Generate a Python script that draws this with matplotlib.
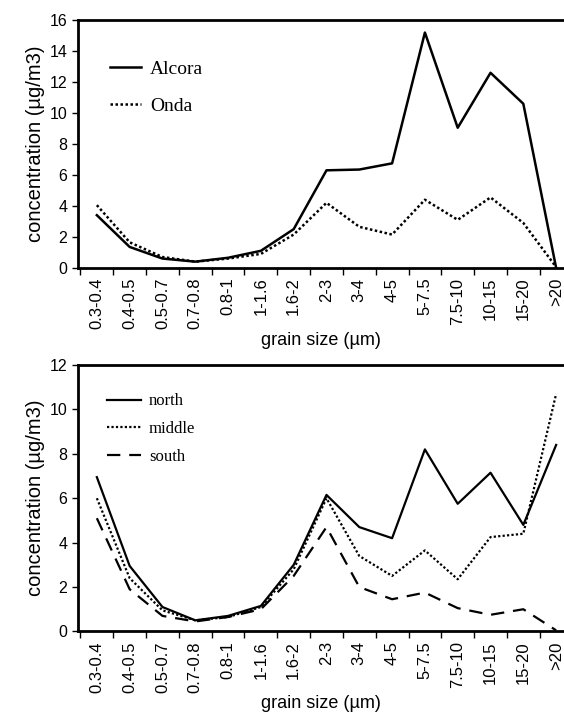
import numpy as np
import matplotlib.pyplot as plt

sizes = ['0.3-0.4', '0.4-0.5', '0.5-0.7', '0.7-0.8', '0.8-1', '1-1.6', '1.6-2',
         '2-3', '3-4', '4-5', '5-7.5', '7.5-10', '10-15', '15-20', '>20']

alcora = [3.4, 1.35, 0.6, 0.4, 0.65, 1.1, 2.5, 6.3, 6.35, 6.75, 15.2, 9.05, 12.6, 10.6, 0.0]
onda = [4.05, 1.65, 0.7, 0.4, 0.6, 0.9, 2.15, 4.2, 2.65, 2.15, 4.4, 3.1, 4.55, 2.9, 0.05]

north = [6.95, 2.95, 1.1, 0.5, 0.7, 1.15, 3.0, 6.15, 4.7, 4.2, 8.2, 5.75, 7.15, 4.8, 8.4]
middle = [6.0, 2.4, 0.95, 0.5, 0.65, 1.1, 2.8, 6.0, 3.4, 2.5, 3.65, 2.35, 4.25, 4.4, 10.7]
south = [5.1, 1.9, 0.7, 0.45, 0.65, 1.0, 2.5, 4.7, 2.0, 1.45, 1.75, 1.05, 0.75, 1.0, 0.05]

plt.rcParams['font.family'] = ['Liberation Sans', 'DejaVu Sans']


def style_axes(ax, ymax, ystep):
    x = np.arange(len(sizes))
    ax.set_xlim(-0.58, 14.24)
    ax.set_ylim(0, ymax)
    ax.set_yticks(np.arange(0, ymax + 1, ystep))
    ax.set_xticks(x)
    ax.set_xticklabels(sizes, rotation=90, fontsize=12)
    ax.set_xticks(np.arange(-0.5, 14, 1), minor=True)
    ax.tick_params(axis='x', which='major', length=0, pad=7)
    ax.tick_params(axis='x', which='minor', length=5, width=1)
    ax.tick_params(axis='y', labelsize=11.5, length=4, width=1)
    for s in ['top', 'left', 'bottom']:
        ax.spines[s].set_linewidth(2)
    ax.spines['right'].set_visible(False)
    ax.set_xlabel('grain size (\u00b5m)', fontsize=13, labelpad=2)
    ax.set_ylabel('concentration (\u00b5g/m3)', fontsize=14.5, labelpad=3)


fig = plt.figure(figsize=(5.64, 7.2), dpi=100)

ax1 = fig.add_axes([0.138, 0.628, 0.862, 0.344])
x = np.arange(len(sizes))
ax1.plot(x, alcora, color='black', lw=1.8, label='Alcora')
ax1.plot(x, onda, color='black', lw=1.8, ls=(0, (1, 1)), label='Onda')
style_axes(ax1, 16, 2)
ax1.legend(loc='upper left', bbox_to_anchor=(0.03, 0.91), frameon=False,
           prop={'family': 'Liberation Serif', 'size': 14}, labelspacing=1.0,
           handlelength=1.6, handletextpad=0.45)

ax2 = fig.add_axes([0.138, 0.123, 0.862, 0.370])
ax2.plot(x, north, color='black', lw=1.6, label='north')
ax2.plot(x, middle, color='black', lw=1.6, ls=(0, (1, 1)), label='middle')
ax2.plot(x, south, color='black', lw=1.6, ls=(0, (6, 4)), label='south')
style_axes(ax2, 12, 2)
ax2.legend(loc='upper left', bbox_to_anchor=(0.03, 0.95), frameon=False,
           prop={'family': 'Liberation Serif', 'size': 12}, labelspacing=0.7,
           handlelength=2.0, handletextpad=0.5)

fig.savefig('out.png', dpi=100)
